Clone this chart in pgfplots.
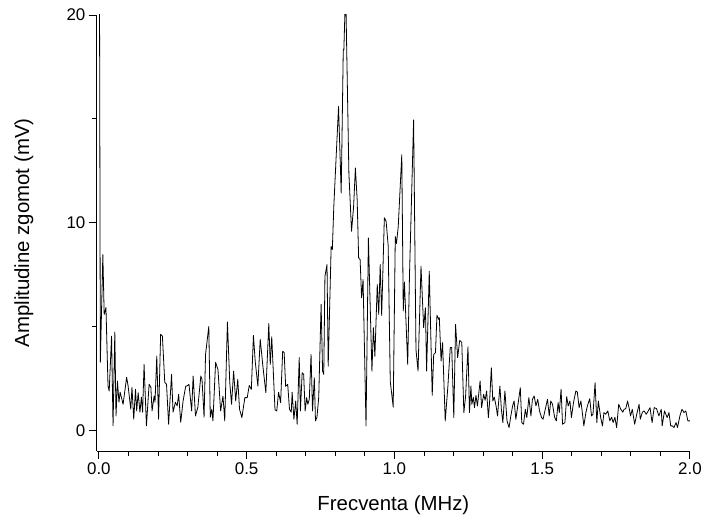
\documentclass[border=0pt]{standalone}
\usepackage{pgfplots}
\pgfplotsset{compat=1.18}
\usepackage{pgfplotstable}
\usepackage{fontspec}
\setmainfont{Liberation Sans}
\pgfplotstableread{
x y
0.000 35.0
0.005 3.27
0.0135 8.46
0.018 5.58
0.024 5.91
0.031 2.13
0.035 1.89
0.043 4.53
0.048 0.21
0.054 4.73
0.058 0.69
0.063 2.37
0.068 1.35
0.072 1.83
0.082 1.25
0.094 2.55
0.099 2.13
0.108 1.01
0.112 2.07
0.118 0.53
0.124 1.97
0.128 0.93
0.133 1.81
0.139 0.87
0.144 1.59
0.148 0.87
0.153 3.17
0.161 0.21
0.170 2.21
0.176 2.07
0.180 0.93
0.187 1.65
0.190 1.35
0.196 3.57
0.202 0.53
0.209 4.62
0.215 4.53
0.223 2.31
0.229 2.21
0.236 0.29
0.246 2.69
0.251 0.87
0.259 1.35
0.265 1.17
0.270 1.73
0.277 0.38
0.285 1.41
0.294 2.13
0.298 2.13
0.305 2.21
0.314 0.93
0.319 2.61
0.327 0.69
0.335 1.11
0.345 2.61
0.349 2.45
0.356 0.63
0.361 3.65
0.372 5.00
0.377 0.63
0.382 1.01
0.386 0.45
0.395 3.27
0.403 2.93
0.412 0.93
0.420 1.65
0.426 0.45
0.435 5.21
0.443 2.29
0.449 1.25
0.456 2.85
0.463 1.41
0.470 2.45
0.476 1.01
0.484 0.61
0.494 1.57
0.502 1.57
0.509 2.16
0.516 1.97
0.523 4.57
0.529 3.33
0.538 2.13
0.546 4.38
0.555 3.09
0.565 1.81
0.575 5.14
0.580 3.17
0.585 4.50
0.596 0.99
0.602 0.93
0.608 1.83
0.615 1.33
0.622 3.81
0.627 3.74
0.632 2.12
0.639 2.21
0.645 1.01
0.651 0.87
0.654 1.83
0.660 0.53
0.666 1.41
0.671 0.29
0.678 3.50
0.682 0.93
0.688 2.77
0.693 2.69
0.698 0.93
0.703 1.57
0.707 1.25
0.712 1.49
0.718 3.65
0.723 0.93
0.729 2.53
0.733 0.45
0.738 0.63
0.744 1.59
0.752 6.06
0.757 2.85
0.761 2.69
0.765 7.42
0.772 7.98
0.776 3.08
0.786 8.85
0.790 8.70
0.795 10.78
0.803 13.19
0.811 15.59
0.820 11.43
0.827 18.32
0.829 18.32
0.835 21.3
0.846 12.39
0.855 9.58
0.862 10.78
0.868 12.63
0.874 11.11
0.879 8.30
0.884 8.22
0.889 6.38
0.894 7.26
0.904 0.21
0.912 9.26
0.924 2.84
0.929 4.94
0.934 3.56
0.942 7.02
0.947 5.58
0.952 7.98
0.957 5.53
0.966 10.23
0.972 10.06
0.979 8.89
0.986 2.36
0.996 1.11
1.003 9.33
1.007 8.99
1.013 9.81
1.025 13.27
1.030 5.74
1.034 7.14
1.045 3.17
1.051 7.42
1.065 14.95
1.073 3.89
1.080 2.85
1.090 7.90
1.099 4.94
1.105 5.90
1.109 2.85
1.118 7.66
1.128 1.68
1.133 3.65
1.139 3.74
1.144 5.54
1.150 5.34
1.152 5.42
1.158 3.33
1.163 4.22
1.172 0.45
1.181 2.12
1.189 3.98
1.194 3.98
1.201 0.61
1.207 5.10
1.214 3.50
1.221 4.33
1.228 4.23
1.235 0.85
1.241 1.65
1.249 4.02
1.254 0.85
1.259 2.13
1.262 1.25
1.267 1.59
1.271 1.09
1.276 1.68
1.281 1.17
1.290 2.37
1.295 1.09
1.302 1.73
1.307 1.44
1.312 1.89
1.318 0.61
1.322 1.33
1.328 3.01
1.333 1.41
1.338 1.59
1.344 1.17
1.349 0.69
1.357 2.13
1.362 1.01
1.367 0.37
1.374 1.89
1.381 0.45
1.388 0.13
1.394 0.69
1.400 1.17
1.405 1.41
1.411 0.53
1.419 1.33
1.426 2.05
1.431 0.37
1.437 0.29
1.443 1.01
1.448 0.61
1.455 1.57
1.462 0.69
1.467 1.49
1.473 1.65
1.479 1.17
1.485 1.49
1.491 0.93
1.498 0.61
1.503 0.53
1.513 1.17
1.518 1.49
1.524 0.69
1.529 1.41
1.535 1.25
1.542 0.63
1.548 0.45
1.554 1.33
1.558 0.85
1.564 1.97
1.569 0.29
1.577 0.37
1.583 1.62
1.588 1.17
1.594 1.41
1.599 0.61
1.606 1.33
1.614 1.89
1.619 1.84
1.625 1.09
1.631 1.41
1.635 0.96
1.641 0.21
1.648 0.85
1.653 1.17
1.661 1.52
1.667 0.69
1.672 0.77
1.679 2.29
1.685 0.37
1.690 1.41
1.698 0.61
1.704 0.21
1.709 0.85
1.715 0.77
1.722 0.93
1.729 0.45
1.735 0.63
1.740 0.37
1.746 0.63
1.752 0.13
1.759 1.25
1.766 1.01
1.773 0.87
1.777 1.01
1.783 1.04
1.789 1.41
1.795 1.01
1.799 0.69
1.805 1.01
1.813 0.29
1.820 0.77
1.828 1.25
1.832 0.53
1.839 0.87
1.845 0.93
1.852 0.77
1.859 0.93
1.865 1.09
1.872 0.37
1.879 1.09
1.887 1.04
1.895 0.69
1.903 1.01
1.906 0.21
1.914 0.93
1.923 0.61
1.929 0.85
1.935 0.21
1.940 0.21
1.946 0.13
1.953 0.37
1.958 0.13
1.966 0.69
1.973 1.01
1.980 0.85
1.986 0.93
1.993 0.45
2.000 0.45
}\spectrum
\begin{document}
\begin{tikzpicture}
\begin{axis}[
  name=ax,
  scale only axis,
  width=594bp, height=436.7bp,
  xmin=-0.0068, xmax=2.0,
  ymin=-1.0, ymax=20,
  axis lines=left,
  axis line style={-, line width=0.9bp},
  tick align=outside,
  major tick length=8bp,
  minor tick length=5bp,
  every tick/.style={black, line width=0.9bp},
  xtick={0,0.5,1.0,1.5,2.0},
  minor xtick={0.1,0.2,0.3,0.4,0.6,0.7,0.8,0.9,1.1,1.2,1.3,1.4,1.6,1.7,1.8,1.9},
  ytick={0,10,20},
  minor ytick={5,15},
  xticklabel style={/pgf/number format/.cd, fixed, fixed zerofill, precision=1, /tikz/.cd},
  /pgf/number format/assume math mode=true,
  tick label style={font=\fontsize{17}{19}\selectfont},
  label style={font=\fontsize{20.5}{24}\selectfont},
  xlabel={Frecventa (MHz)},
  ylabel={Amplitudine zgomot (mV)},
  xlabel style={at={(axis description cs:0.5,-0.124)}, anchor=center},
  ylabel style={at={(axis description cs:-0.123,0.5)}, anchor=center},
]
\addplot[black, line width=0.8bp, line join=round] table[x=x, y=y] {\spectrum};
\end{axis}
\path ([xshift=-97bp,yshift=-68.3bp]ax.south west) rectangle ([xshift=14bp,yshift=15bp]ax.north east);
\end{tikzpicture}
\end{document}
